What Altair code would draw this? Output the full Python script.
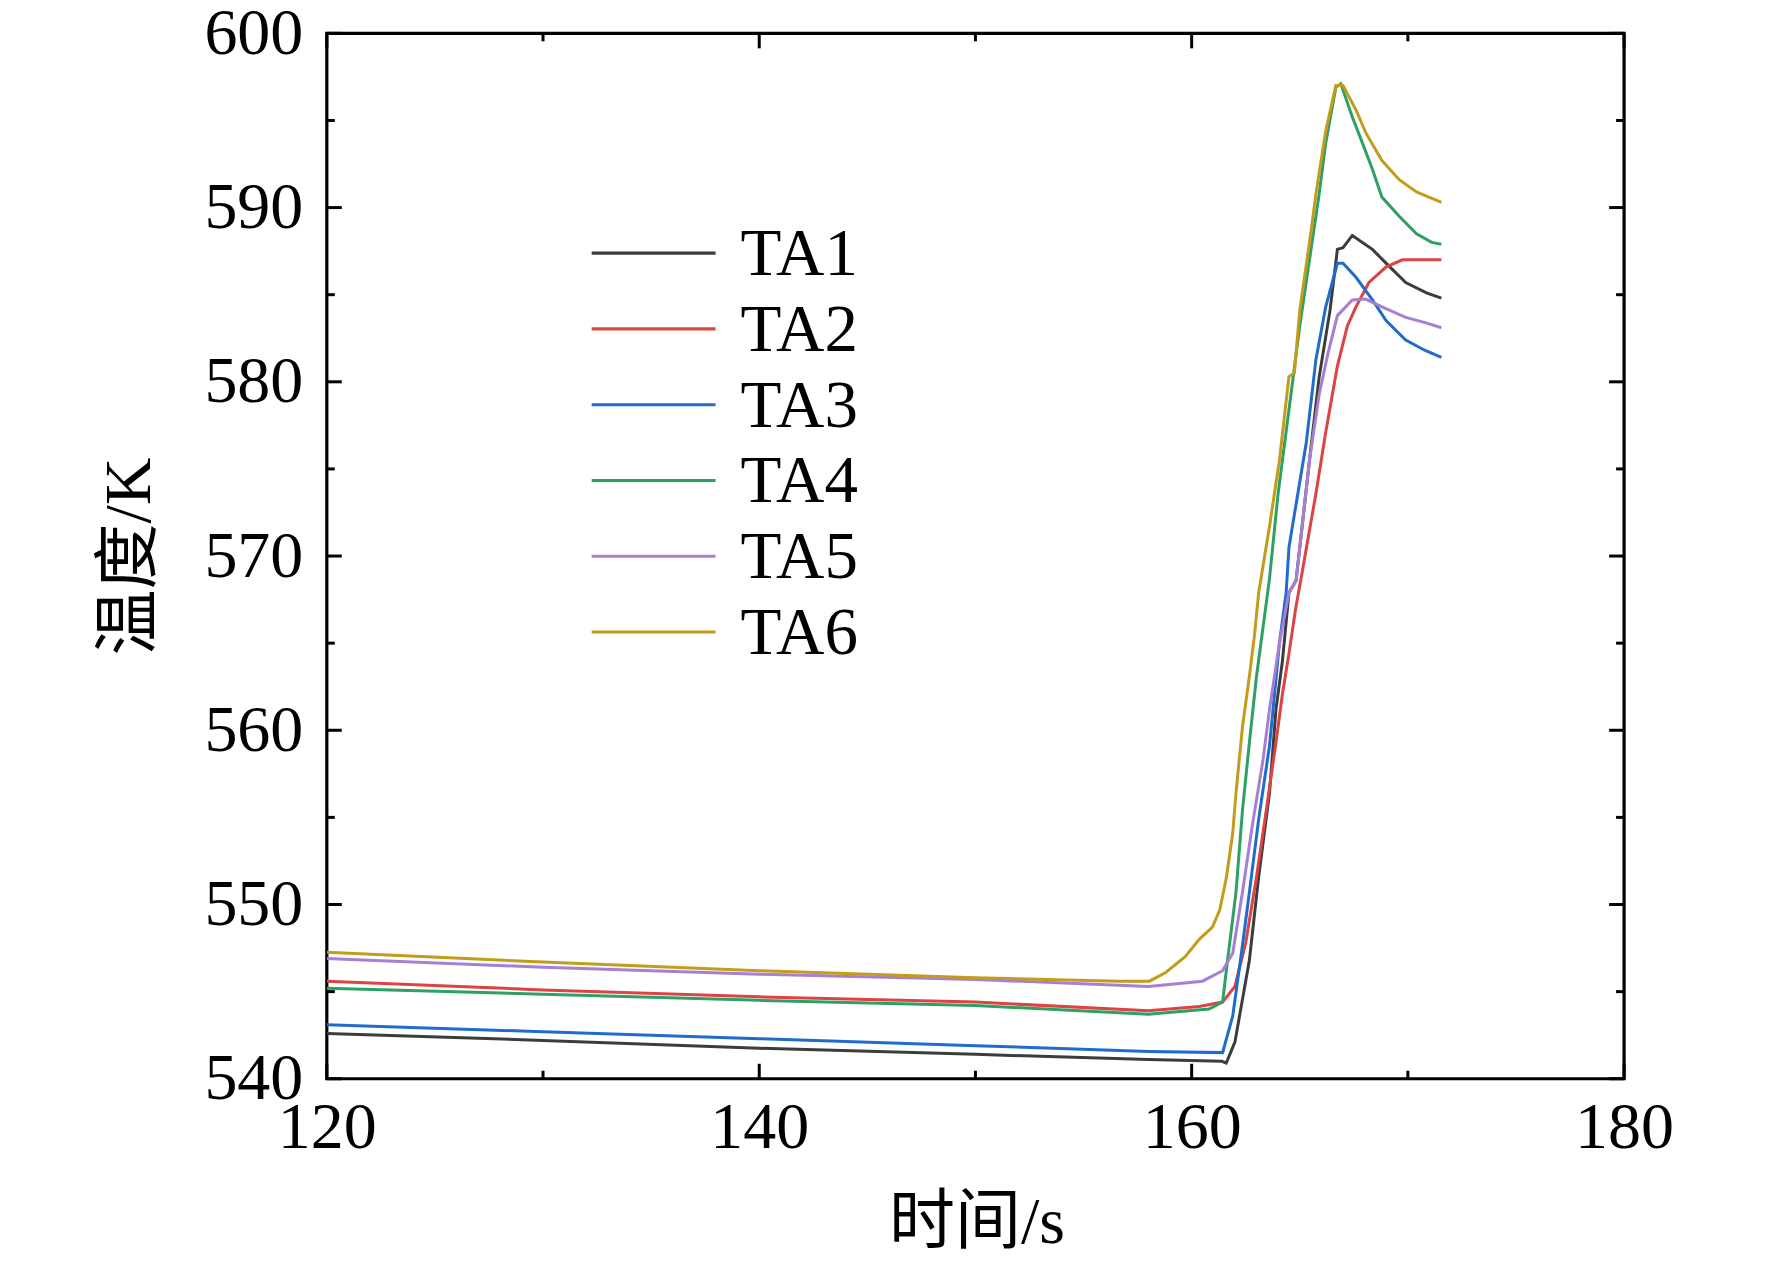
import altair as alt
import pandas as pd

# ---- data ----
series = ["TA1", "TA2", "TA3", "TA4", "TA5", "TA6"]
colors = ["#3c3c3c", "#dc4343", "#1f6ccc", "#2ea063", "#a67fd2", "#c39c1c"]

t_TA1 = [120, 130, 140, 150, 158, 161.4, 161.6, 162.0, 162.67, 163.1, 163.6, 163.9, 164.2, 164.5,
         164.83, 165.45, 165.9, 166.4, 166.74, 167.0, 167.43, 168.36, 169.0, 169.9, 170.86, 171.55]
v_TA1 = [542.6, 542.2, 541.75, 541.4, 541.1, 541.0, 540.9, 542.1, 546.8, 551.6, 556.4, 561.2, 564.0, 567.9,
         568.6, 575.5, 580.3, 584.1, 587.6, 587.7, 588.4, 587.6, 586.8, 585.7, 585.1, 584.8]

t_TA2 = [120, 130, 140, 150, 158, 160.35, 161.43, 162.0, 162.5, 163.0, 163.45, 163.9, 164.2, 164.5, 164.8,
         165.1, 165.75, 166.2, 166.74, 167.2, 167.6, 168.2, 169.0, 169.75, 171.55]
v_TA2 = [545.6, 545.1, 544.7, 544.4, 543.9, 544.15, 544.4, 545.3, 547.8, 551.6, 555.4, 559.3, 562.1, 564.4, 566.9,
         569.0, 573.6, 577.1, 580.9, 583.2, 584.3, 585.7, 586.6, 587.0, 587.0]

t_TA3 = [120, 130, 140, 150, 158, 161.43, 161.9, 162.3, 162.67, 163.1, 163.6, 164.06, 164.37, 164.5, 165.3,
         165.75, 166.2, 166.74, 167.0, 167.6, 168.36, 169.0, 169.9, 170.8, 171.55]
v_TA3 = [543.1, 542.7, 542.3, 541.9, 541.57, 541.5, 543.6, 547.2, 550.7, 554.9, 559.1, 565.0, 567.9, 570.5, 576.5,
         581.3, 584.3, 586.8, 586.8, 586.0, 584.7, 583.5, 582.4, 581.8, 581.4]

t_TA4 = [120, 130, 140, 150, 158, 160.8, 161.43, 161.66, 162.05, 162.35, 162.67, 163.0, 163.3, 163.6, 164.0,
         164.5, 165.0, 165.45, 165.9, 166.2, 166.67, 166.9, 167.43, 167.9, 168.36, 168.8, 169.6, 170.4, 171.1, 171.55]
v_TA4 = [545.2, 544.85, 544.5, 544.2, 543.7, 544.0, 544.4, 546.8, 550.7, 555.4, 559.3, 563.1, 565.9, 568.7, 573.6,
         578.4, 583.2, 587.0, 590.8, 593.7, 596.9, 597.1, 595.2, 593.7, 592.2, 590.6, 589.5, 588.5, 588.0, 587.9]

t_TA5 = [120, 130, 140, 150, 158, 160.5, 161.43, 161.9, 162.35, 162.8, 163.3, 163.6, 164.06, 164.5, 164.83,
         165.45, 165.9, 166.3, 166.74, 167.43, 168.05, 168.8, 169.9, 170.8, 171.55]
v_TA5 = [546.9, 546.4, 546.0, 545.7, 545.3, 545.6, 546.2, 547.2, 550.7, 554.5, 558.3, 561.2, 565.0, 567.9, 568.6,
         575.5, 579.3, 581.6, 583.8, 584.7, 584.75, 584.3, 583.7, 583.4, 583.1]

t_TA6 = [120, 130, 140, 150, 156.66, 158.05, 158.8, 159.7, 160.35, 160.96, 161.3, 161.6, 161.9, 162.05, 162.35,
         162.67, 162.9, 163.1, 163.6, 164.06, 164.5, 164.75, 165.0, 165.45, 165.75, 166.2, 166.67, 167.0, 167.6,
         168.05, 168.8, 169.6, 170.4, 171.55]
v_TA6 = [547.26, 546.7, 546.2, 545.8, 545.6, 545.6, 546.1, 547.0, 548.0, 548.7, 549.7, 551.5, 554.1, 556.4, 560.2,
         563.1, 565.4, 567.9, 571.7, 575.5, 580.3, 580.5, 584.1, 588.0, 590.8, 594.4, 597.0, 597.0, 595.6,
         594.3, 592.7, 591.6, 590.9, 590.3]

x_major = [120, 140, 160, 180]
x_minor = [130, 150, 170]
y_major = [540, 550, 560, 570, 580, 590, 600]
y_minor = [545, 555, 565, 575, 585, 595]

x_title = "时间/s"
y_title = "温度/K"

# ---- build table ----
times = [t_TA1, t_TA2, t_TA3, t_TA4, t_TA5, t_TA6]
vals = [v_TA1, v_TA2, v_TA3, v_TA4, v_TA5, v_TA6]
rows = []
for name, ts, vs in zip(series, times, vals):
    for i, (t, v) in enumerate(zip(ts, vs)):
        rows.append({"series": name, "t": t, "T": v, "order": i})
df = pd.DataFrame(rows)
legend_df = pd.DataFrame({"series": series, "row": list(range(len(series)))})

W, H = 1298, 1046
FONT = "Liberation Serif, Times New Roman, Noto Sans CJK SC"

xs = alt.Scale(domain=[120, 180], nice=False, zero=False)
ys = alt.Scale(domain=[540, 600], nice=False, zero=False)
cs = alt.Scale(domain=series, range=colors)

ax_x = alt.Axis(
    values=x_major, title=x_title, tickSize=0, domain=False, grid=False, labelFlush=False,
    labelFont=FONT, labelFontSize=66, labelColor="black", labelPadding=17,
    titleFont=FONT, titleFontSize=66, titleFontWeight="normal", titleColor="black",
    titleX=650, titleY=144, titleBaseline="middle", titleAlign="center")
ax_y = alt.Axis(
    orient="left",
    values=y_major, title=y_title, tickSize=0, domain=False, grid=False, labelFlush=False,
    labelFont=FONT, labelFontSize=66, labelColor="black", labelPadding=24,
    titleFont=FONT, titleFontSize=66, titleFontWeight="normal", titleColor="black",
    titleX=-197, titleY=523, titleAngle=270, titleBaseline="middle", titleAlign="center")

lines = alt.Chart(df).mark_line(strokeWidth=3, clip=True).encode(
    x=alt.X("t:Q", scale=xs, axis=ax_x, title=x_title),
    y=alt.Y("T:Q", scale=ys, axis=ax_y, title=y_title),
    color=alt.Color("series:N", scale=cs, legend=None),
    order="order:Q",
)

xmaj = pd.DataFrame({"v": x_major})
xmin = pd.DataFrame({"v": x_minor})
ymaj = pd.DataFrame({"v": y_major})
ymin = pd.DataFrame({"v": y_minor})

def xticks(d, L):
    b = alt.Chart(d).mark_rule(color="black", strokeWidth=3).encode(
        x=alt.X("v:Q", scale=xs, axis=ax_x, title=x_title), y=alt.value(H), y2=alt.value(H - L))
    t = alt.Chart(d).mark_rule(color="black", strokeWidth=3).encode(
        x=alt.X("v:Q", scale=xs, axis=ax_x, title=x_title), y=alt.value(0), y2=alt.value(L))
    return [b, t]

def yticks(d, L):
    l = alt.Chart(d).mark_rule(color="black", strokeWidth=3).encode(
        y=alt.Y("v:Q", scale=ys, axis=ax_y, title=y_title), x=alt.value(0), x2=alt.value(L))
    r = alt.Chart(d).mark_rule(color="black", strokeWidth=3).encode(
        y=alt.Y("v:Q", scale=ys, axis=ax_y, title=y_title), x=alt.value(W), x2=alt.value(W - L))
    return [l, r]

main = alt.layer(*([lines] + xticks(xmaj, 15) + xticks(xmin, 8) + yticks(ymaj, 15) + yticks(ymin, 8)))

# manual legend (rows placed by a linear scale over the row index)
ly = alt.Y("row:Q", scale=alt.Scale(domain=[0, 5], range=[220, 599], nice=False, zero=False), axis=None)
leg_lines = alt.Chart(legend_df).mark_rule(strokeWidth=3.2).encode(
    y=ly, x=alt.value(265), x2=alt.value(389),
    color=alt.Color("series:N", scale=cs, legend=None))
leg_text = alt.Chart(legend_df).mark_text(
    align="left", baseline="middle", font=FONT, fontSize=67, color="black", dy=2).encode(
    y=ly, x=alt.value(414), text="series:N")
legend = alt.layer(leg_lines, leg_text)

chart = alt.layer(main, legend).resolve_scale(y="independent").properties(
    width=W, height=H,
    background="white",
    autosize=alt.AutoSizeParams(type="none"),
    padding={"left": 319, "top": 25, "right": 140, "bottom": 180},
).configure_view(stroke="black", strokeWidth=3.2)

chart.save("out.html", embed_options={"renderer": "svg", "actions": False})
